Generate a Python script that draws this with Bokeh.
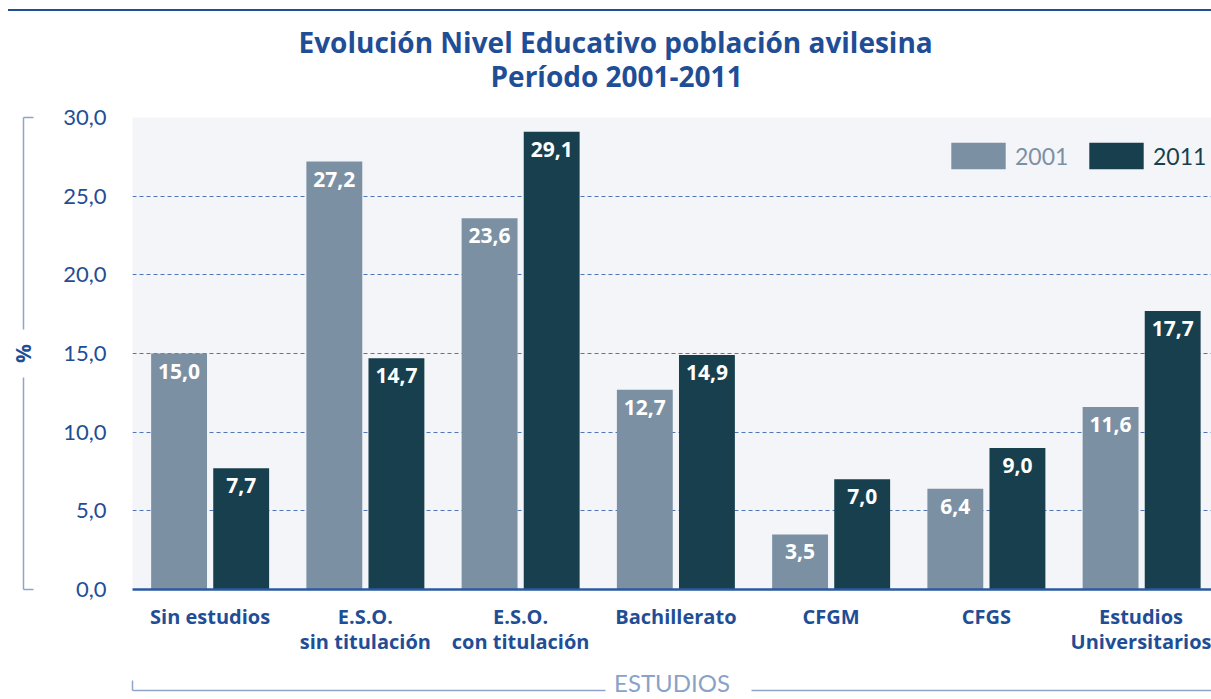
from bokeh.plotting import figure
from bokeh.models import (ColumnDataSource, Range1d, FixedTicker, Legend, LegendItem,
                          LinearAxis, Title, Div)
from bokeh.layouts import column
from bokeh.core.properties import value
from bokeh.embed import file_html
from bokeh.resources import INLINE

categories = ["Sin estudios", "E.S.O.\nsin titulación", "E.S.O.\ncon titulación", "Bachillerato",
              "CFGM", "CFGS", "Estudios\nUniversitarios"]
v2001 = [15.0, 27.2, 23.6, 12.7, 3.5, 6.4, 11.6]
v2011 = [7.7, 14.7, 29.1, 14.9, 7.0, 9.0, 17.7]
years = ["2001", "2011"]
y_ticks = [0, 5, 10, 15, 20, 25, 30]
title_lines = ["Evolución Nivel Educativo población avilesina", "Período 2001-2011"]
x_title = "ESTUDIOS"
y_title = "%"

BLUE = "#1f4e96"
C2001 = "#7b91a3"
C2011 = "#173f4d"
LC = "#8ea4c9"
FONT = "Lato"
BFONT = "Open Sans"

W, H = 1211, 699
TOP = 11

rule = Div(text="", width=W - 8, height=TOP, margin=(0, 0, 0, 8),
           styles={"border-bottom": f"2.5px solid {BLUE}", "box-sizing": "border-box"})

p = figure(width=W, height=H - TOP, output_backend="svg", toolbar_location=None,
           x_range=Range1d(0, 6.95), y_range=Range1d(0, 30), margin=0,
           min_border_left=132, min_border_right=0, min_border_top=117 - TOP, min_border_bottom=110,
           background_fill_color="#f4f5f9", border_fill_color="white", outline_line_color=None)
xa = p.xaxis[0]
ya = p.yaxis[0]

idx = list(range(len(categories)))
fmt = lambda v: f"{v:.1f}".replace(".", ",")
src1 = ColumnDataSource(dict(x=[i + 0.5 - 0.2 for i in idx], top=v2001, lab=[fmt(v) for v in v2001]))
src2 = ColumnDataSource(dict(x=[i + 0.5 + 0.2 for i in idx], top=v2011, lab=[fmt(v) for v in v2011]))

r1 = p.vbar(x="x", top="top", width=0.36, source=src1, fill_color=C2001, line_color=None)
r2 = p.vbar(x="x", top="top", width=0.36, source=src2, fill_color=C2011, line_color=None)

for s in (src1, src2):
    p.text(x="x", y="top", text="lab", source=s, text_color="white", text_font=value(BFONT),
           text_font_style="bold", text_font_size="21px", text_align="center",
           text_baseline="top", y_offset=10)

# x axis (categories)
xa.ticker = FixedTicker(ticks=[i + 0.5 for i in idx])
xa.major_label_overrides = {i + 0.5: c for i, c in zip(idx, categories)}
xa.major_tick_line_color = None
xa.major_tick_out = 0
xa.major_tick_in = 0
xa.minor_tick_line_color = None
xa.axis_line_color = "#2a5aa0"
xa.axis_line_width = 2.5
xa.major_label_text_font = BFONT
xa.major_label_text_font_style = "bold"
xa.major_label_text_font_size = "20px"
xa.major_label_text_line_height = 0.955
xa.major_label_text_color = BLUE
xa.major_label_standoff = 13
xa.axis_label = " "
xa.axis_label_text_font_size = "20px"
xa.axis_label_standoff = 7

# y axis (values)
ya.ticker = FixedTicker(ticks=y_ticks)
ya.major_label_overrides = {t: fmt(t) for t in y_ticks}
ya.major_tick_line_color = None
ya.major_tick_out = 0
ya.major_tick_in = 0
ya.minor_tick_line_color = None
ya.axis_line_color = None
ya.major_label_text_font = FONT
ya.major_label_text_font_size = "22px"
ya.major_label_text_color = BLUE
ya.major_label_standoff = 26
ya.axis_label = " "
ya.axis_label_text_font_size = "20px"
ya.axis_label_standoff = 12

p.xgrid.grid_line_color = None
p.ygrid.grid_line_color = "#4f76b5"
p.ygrid.grid_line_dash = "4 3"
p.ygrid.grid_line_width = 1

# outer left bracket axis with "%"
yb = LinearAxis(ticker=FixedTicker(ticks=[0, 30]), major_label_overrides={0: "", 30: ""},
                major_label_standoff=0, major_label_text_font_size="0px",
                major_tick_in=10, major_tick_out=0, major_tick_line_color=LC, major_tick_line_width=1.5,
                minor_tick_line_color=None, axis_line_color=LC, axis_line_width=1.5,
                axis_line_dash="212 48 600",
                axis_label=y_title, axis_label_standoff=-13, axis_label_text_font=BFONT,
                axis_label_text_font_style="bold", axis_label_text_font_size="21px",
                axis_label_text_color=BLUE)
p.add_layout(yb, "left")

# outer bottom bracket axis with "ESTUDIOS"
xb = LinearAxis(ticker=FixedTicker(ticks=[0]), major_label_overrides={0: ""}, major_label_standoff=0,
                major_label_text_font_size="0px",
                major_tick_in=10, major_tick_out=0, major_tick_line_color=LC, major_tick_line_width=1.5,
                minor_tick_line_color=None, axis_line_color=LC, axis_line_width=1.5,
                axis_line_dash="473 146 2000",
                axis_label=x_title, axis_label_standoff=-23, axis_label_text_font=FONT,
                axis_label_text_font_style="normal", axis_label_text_font_size="24px",
                axis_label_text_color="#8aa2c8")
p.add_layout(xb, "below")

# invisible spacer between frame and titles
gap = LinearAxis(ticker=FixedTicker(ticks=[3.0]), major_label_overrides={3.0: ""},
                 major_tick_out=23, major_tick_in=0,
                 major_tick_line_color=None, minor_tick_line_color=None, axis_line_color=None,
                 major_label_text_font_size="0px", major_label_standoff=0)
p.add_layout(gap, "above")

# titles (nearest to the frame first)
p.add_layout(Title(text=title_lines[1], align="left", offset=358, standoff=0,
                   text_font=BFONT, text_font_style="bold", text_font_size="28px",
                   text_color=BLUE), "above")
p.add_layout(Title(text=title_lines[0], align="left", offset=166, standoff=-12,
                   text_font=BFONT, text_font_style="bold", text_font_size="28px",
                   text_color=BLUE), "above")

# legends
leg1 = Legend(items=[LegendItem(label=years[0], renderers=[r1])], location=(812, 417),
              glyph_width=68, glyph_height=33, label_standoff=3, padding=0, margin=0,
              border_line_color=None, background_fill_alpha=0,
              label_text_font=FONT, label_text_font_size="23px", label_text_color=C2001)
leg2 = Legend(items=[LegendItem(label=years[1], renderers=[r2])], location=(950, 417),
              glyph_width=68, glyph_height=33, label_standoff=3, padding=0, margin=0,
              border_line_color=None, background_fill_alpha=0,
              label_text_font=FONT, label_text_font_size="23px", label_text_color=C2011)
p.add_layout(leg1, "center")
p.add_layout(leg2, "center")

layout = column(rule, p, spacing=0)
open("out.html", "w").write(file_html(layout, INLINE))
